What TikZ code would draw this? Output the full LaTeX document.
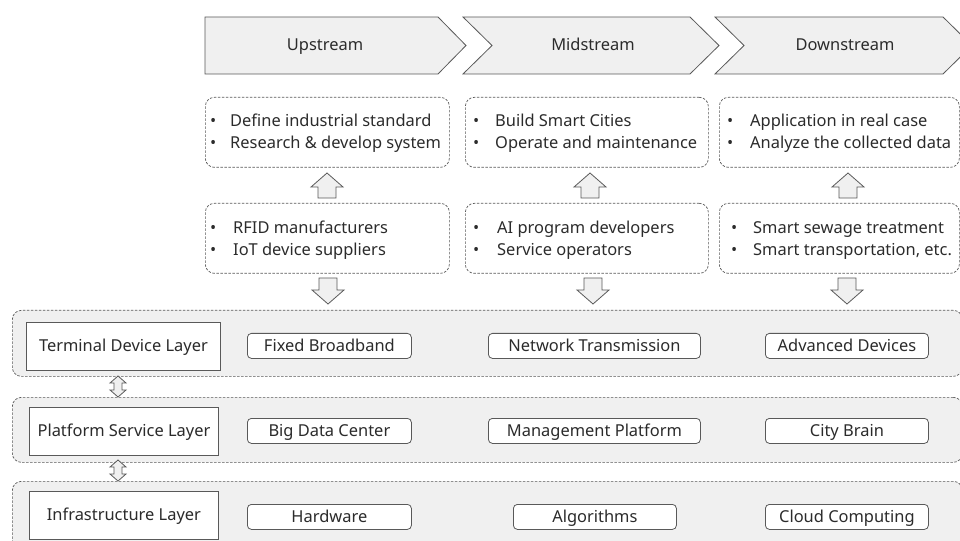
\documentclass[tikz,border=0pt]{standalone}
\usepackage{fontspec}
\setmainfont{Noto Sans}
\usetikzlibrary{calc}
\definecolor{lc}{HTML}{595959}
\definecolor{fc}{HTML}{F0F0F0}
\definecolor{tc}{HTML}{2B2B2B}
\newcommand\blkup[2]{\draw[blk] (#1,#2) -- ({#1+16},{#2+14}) -- ({#1+9},{#2+14}) -- ({#1+9},{#2+25}) -- ({#1-9},{#2+25}) -- ({#1-9},{#2+14}) -- ({#1-16},{#2+14}) -- cycle;}
\newcommand\blkdown[2]{\draw[blk] ({#1-9},#2) -- ({#1+9},#2) -- ({#1+9},{#2+12}) -- ({#1+16},{#2+12}) -- (#1,{#2+26}) -- ({#1-16},{#2+12}) -- ({#1-9},{#2+12}) -- cycle;}
\newcommand\blkupdown[2]{\draw[blk] (#1,#2) -- ({#1+8},{#2+7}) -- ({#1+4},{#2+7}) -- ({#1+4},{#2+14}) -- ({#1+8},{#2+14}) -- (#1,{#2+21}) -- ({#1-8},{#2+14}) -- ({#1-4},{#2+14}) -- ({#1-4},{#2+7}) -- ({#1-8},{#2+7}) -- cycle;}
\begin{document}
\begin{tikzpicture}[x=1bp,y=-1bp,
  font=\fontsize{16.5}{19}\selectfont, text=tc,
  every node/.append style={text height=13.5bp, text depth=3bp},
  chev/.style={draw=lc, fill=fc, line width=0.8bp},
  dbox/.style={draw=lc, dash pattern=on 2.5bp off 1.5bp, rounded corners=9bp, line width=0.7bp, anchor=north west, inner sep=0pt},
  layerbox/.style={dbox, fill=fc},
  lab/.style={draw=lc, fill=white, line width=0.9bp, anchor=north west, inner sep=0pt},
  item/.style={draw=lc, fill=white, line width=0.8bp, rounded corners=4bp, anchor=north west, inner sep=0pt, minimum height=25bp},
  blk/.style={draw=lc, fill=fc, line width=0.8bp, line join=miter},
  txt/.style={anchor=west, inner sep=0pt}]
\path[use as bounding box] (0,0) rectangle (960,541);
\clip (0,0) rectangle (960,541);
% chevrons
\draw[chev] (205,17) -- (438,17) -- (466,45.5) -- (438,74) -- (205,74) -- cycle;
\draw[chev] (463,17) -- (690,17) -- (719,45.5) -- (690,74) -- (463,74) -- (492,45.5) -- cycle;
\draw[chev] (715,17) -- (943,17) -- (972,45.5) -- (943,74) -- (715,74) -- (744,45.5) -- cycle;
\node (up) at (325,45.5) {Upstream};
\node (mid) at (593,45.5) {Midstream};
\node (down) at (845,45.5) {Downstream};
% activity boxes
\node[dbox, minimum width=244bp, minimum height=70bp] (a1) at (205,97) {};
\node[dbox, minimum width=243bp, minimum height=70bp] (a2) at (465,97) {};
\node[dbox, minimum width=240bp, minimum height=70bp] (a3) at (719,97) {};
\node[dbox, minimum width=244bp, minimum height=70bp] (p1) at (205,203) {};
\node[dbox, minimum width=243bp, minimum height=70bp] (p2) at (465,203) {};
\node[dbox, minimum width=240bp, minimum height=70bp] (p3) at (719,203) {};
% bullets
\foreach \bx/\tx/\y/\t in {210/230/121/Define industrial standard, 210/230/143/Research \& develop system,
  210/233/228/RFID manufacturers, 210/233/250/IoT device suppliers,
  473/495/121/Build Smart Cities, 473/495/143/Operate and maintenance,
  473/497/228/AI program developers, 473/497/250/Service operators,
  727/750/121/Application in real case, 727/750/143/Analyze the collected data,
  731/753/228/Smart sewage treatment, 731/753/250/{Smart transportation, etc.}}{
  \node[txt] at (\bx,\y) {•};
  \node[txt] at (\tx,\y) {\t};
}
% arrows between rows
\blkup{327}{173}
\blkup{590}{173}
\blkup{848}{173}
\blkdown{328}{278}
\blkdown{593}{278}
\blkdown{847}{278}
% layers
\node[layerbox, minimum width=950bp, minimum height=66bp] (L1) at (12,310) {};
\node[layerbox, minimum width=950bp, minimum height=65bp] (L2) at (12,397) {};
\node[layerbox, minimum width=950bp, minimum height=70bp] (L3) at (12,481) {};
\node[lab, minimum width=194bp, minimum height=48bp] (T) at (26,322) {Terminal Device Layer};
\node[lab, minimum width=189bp, minimum height=48bp] (P) at (29,407) {Platform Service Layer};
\node[lab, minimum width=189bp, minimum height=48bp] (I) at (29,491) {Infrastructure Layer};
\blkupdown{118}{376}
\blkupdown{118}{460}
\node[item, minimum width=164bp] (fb) at (247,333) {Fixed Broadband};
\node[item, minimum width=212bp] (nt) at (488,333) {Network Transmission};
\node[item, minimum width=163bp] (ad) at (765,333) {Advanced Devices};
\node[item, minimum width=164bp] (bd) at (247,418) {Big Data Center};
\node[item, minimum width=212bp] (mp) at (488,418) {Management Platform};
\node[item, minimum width=163bp] (cb) at (765,418) {City Brain};
\node[item, minimum width=164bp] (hw) at (247,504) {Hardware};
\node[item, minimum width=163bp] (al) at (513,504) {Algorithms};
\node[item, minimum width=163bp] (cc) at (765,504) {Cloud Computing};
\end{tikzpicture}
\end{document}
